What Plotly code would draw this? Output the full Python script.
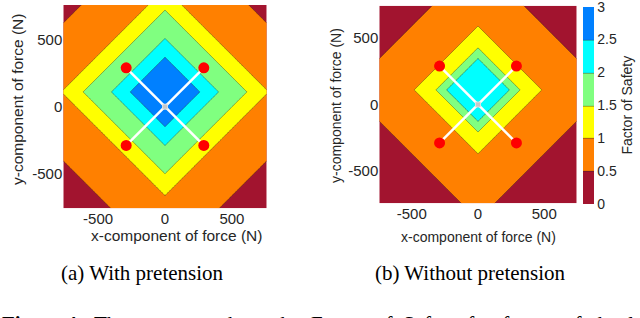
import numpy as np
import plotly.graph_objects as go

# ---- data ----
# L1 distance (N) from the load centre at which each Factor-of-Safety value is reached
dist_a = [0, 261, 400, 612, 775, 1275, 2600]
fos_a = [2.9, 2.5, 2.0, 1.5, 1.0, 0.5, 0.0]
dist_b = [0, 238, 317, 481, 980, 2600]
fos_b = [2.3, 2.0, 1.5, 1.0, 0.5, 0.0]
centre_y = 110          # y-offset (N) of the contour centre
range_a = 760
range_b = 745

anchor_x = [-290, 290, 290, -290]
anchor_y = [290, -290, 290, -290]

tick_vals = [-500, 0, 500]
tick_text = ["-500", "0", "500"]
cbar_vals = [0, 0.5, 1, 1.5, 2, 2.5, 3]
cbar_text = ["0", "0.5", "1", "1.5", "2", "2.5", "3"]
band_colors = ["#A2142F", "#FF8000", "#FFFF00", "#80FF80", "#00FFFF", "#0080FF"]

# stepped colour scale
cscale = []
n = len(band_colors)
for i, c in enumerate(band_colors):
    cscale.append([i / n, c])
    cscale.append([(i + 1) / n, c])


def field(rng, dist, fos):
    xs = np.linspace(-rng, rng, 401)
    ys = np.linspace(-rng, rng, 401)
    X, Y = np.meshgrid(xs, ys)
    d = np.abs(X) + np.abs(Y - centre_y)
    Z = np.interp(d, dist, fos)
    return xs, ys, Z


FONT = "Liberation Sans, Arial, sans-serif"
SERIF = "Liberation Serif, Times New Roman, serif"
TXT = "#262626"

fig = go.Figure()

xa, ya, za = field(range_a, dist_a, fos_a)
xb, yb, zb = field(range_b, dist_b, fos_b)

common = dict(
    colorscale=cscale, zmin=0, zmax=3,
    contours=dict(start=0.5, end=2.5, size=0.5, coloring="fill", showlines=True),
    line=dict(width=0.6, color="rgba(40,40,40,0.7)"),
    hoverinfo="skip",
)

fig.add_trace(go.Contour(x=xa, y=ya, z=za, showscale=False, xaxis="x", yaxis="y", **common))
fig.add_trace(go.Contour(
    x=xb, y=yb, z=zb, xaxis="x2", yaxis="y2", showscale=True,
    colorbar=dict(
        x=582.7 / 640, xanchor="left", xpad=0, thickness=10.6, thicknessmode="pixels",
        y=1 - 6.7 / 318, yanchor="top", ypad=0, len=196.6, lenmode="pixels",
        tickvals=cbar_vals, ticktext=cbar_text, ticks="", outlinewidth=0,
        ticklabeloverflow="allow",
        tickfont=dict(family=FONT, size=14, color=TXT),
        title=dict(text="Factor of Safety", side="right", font=dict(family=FONT, size=14, color=TXT)),
    ),
    **common))

for xr, yr in (("x", "y"), ("x2", "y2")):
    # white X
    fig.add_trace(go.Scatter(x=[anchor_x[0], anchor_x[1]], y=[anchor_y[0], anchor_y[1]], mode="lines",
                             line=dict(color="white", width=2.5), xaxis=xr, yaxis=yr,
                             showlegend=False, hoverinfo="skip"))
    fig.add_trace(go.Scatter(x=[anchor_x[2], anchor_x[3]], y=[anchor_y[2], anchor_y[3]], mode="lines",
                             line=dict(color="white", width=2.5), xaxis=xr, yaxis=yr,
                             showlegend=False, hoverinfo="skip"))
    fig.add_trace(go.Scatter(x=anchor_x, y=anchor_y, mode="markers",
                             marker=dict(color="#FF0000", size=11, line=dict(width=0)),
                             xaxis=xr, yaxis=yr, showlegend=False, hoverinfo="skip"))
    fig.add_trace(go.Scatter(x=[0], y=[0], mode="markers",
                             marker=dict(color="#C8C8C8", size=5, symbol="square",
                                         line=dict(width=0.8, color="#E6E6E6")),
                             xaxis=xr, yaxis=yr, showlegend=False, hoverinfo="skip"))

axis_common = dict(showgrid=False, zeroline=False, ticks="", showline=False,
                   tickvals=tick_vals, ticktext=tick_text,
                   tickfont=dict(family=FONT, size=15, color=TXT))

fig.update_layout(
    width=640, height=318,
    margin=dict(l=0, r=0, t=0, b=0),
    paper_bgcolor="white", plot_bgcolor="white",
    showlegend=False,
    xaxis=dict(domain=[63.3 / 640, 266.7 / 640], range=[-range_a, range_a], anchor="y", **axis_common),
    yaxis=dict(domain=[1 - 208.3 / 318, 1 - 5 / 318], range=[-range_a, range_a], anchor="x", **axis_common),
    xaxis2=dict(domain=[379.3 / 640, 576.7 / 640], range=[-range_b, range_b], anchor="y2", **axis_common),
    yaxis2=dict(domain=[1 - 203.3 / 318, 1 - 5.7 / 318], range=[-range_b, range_b], anchor="x2", **axis_common),
)

def ann(text, x, y, size=14, family=FONT, angle=0, color=TXT, xanchor="center", yanchor="middle"):
    fig.add_annotation(text=text, x=x / 640, y=1 - y / 318, xref="paper", yref="paper",
                       showarrow=False, textangle=angle, xanchor=xanchor, yanchor=yanchor,
                       font=dict(family=family, size=size, color=color))

ann("x-component of force (N)", 176, 236, size=15.5)
ann("y-component of force (N)", 18, 100, size=15.5, angle=-90)
ann("x-component of force (N)", 478, 237, size=14)
ann("y-component of force (N)", 336, 106, size=14, angle=-90)

ann("(a) With pretension", 142, 273, size=21, family=SERIF, color="black")
ann("(b) Without pretension", 470, 273, size=21, family=SERIF, color="black")
ann("<b>Figure 4:</b>  The  contours  show  the  Factor  of  Safety  for  forces  of  the  load  frame",
    0, 309.5, size=21, family=SERIF, color="black", xanchor="left", yanchor="top")

fig.write_html("out.html", config={"displayModeBar": False},
               post_script="document.body.style.margin='0';document.body.style.overflow='hidden';")
